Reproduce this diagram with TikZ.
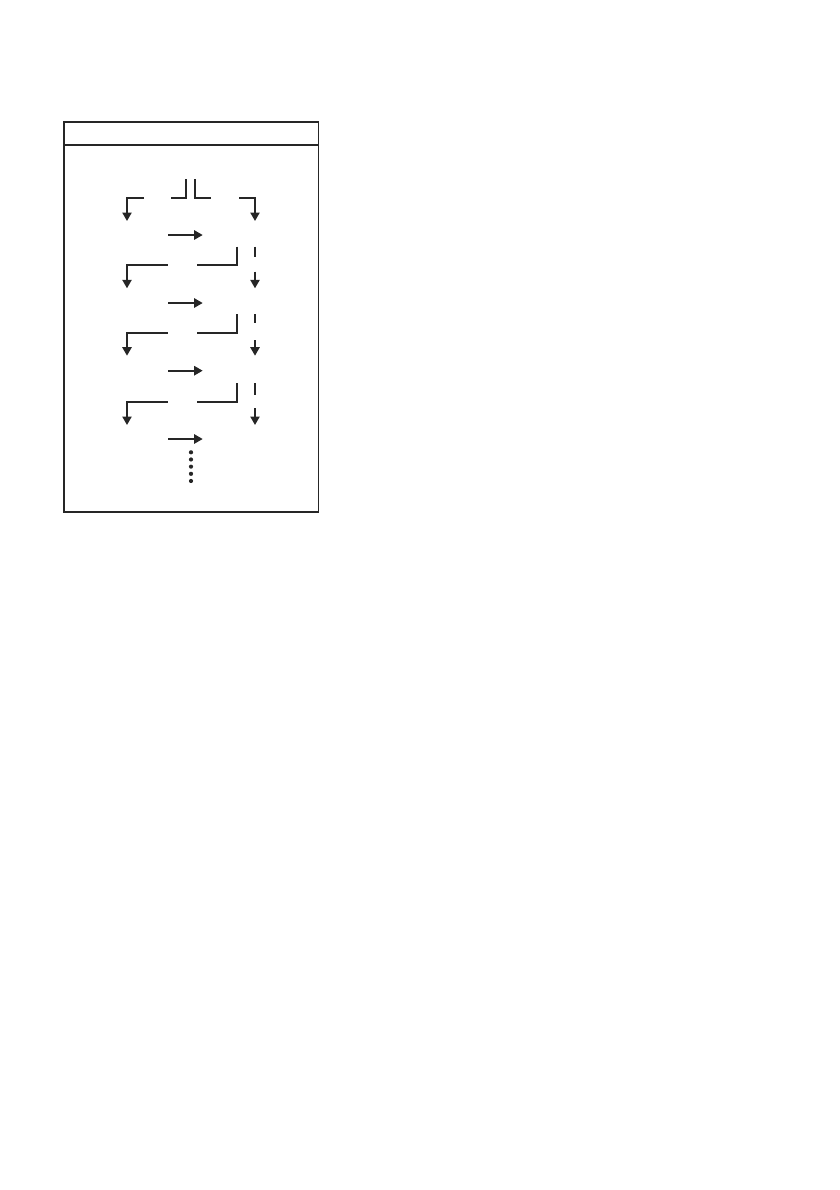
\documentclass[tikz,border=0pt]{standalone}
\usetikzlibrary{arrows.meta}
\begin{document}
\begin{tikzpicture}[x=0.7086pt,y=-0.7086pt,
  conn/.style={line width=1.3pt,line join=miter,color=black!85},
  arr/.style={conn,-{Triangle[length=6pt,width=6.5pt]}},
  frame/.style={line width=0.8pt,draw=black!85}]
\useasboundingbox (0,0) rectangle (840,1190);
% outer frame and header
\draw[frame] (64,122) rectangle (318.5,512);
\draw[frame] (64,145) -- (318.5,145);
% top junction
\coordinate (t1a) at (186,179); \coordinate (t1b) at (171,197.7);
\coordinate (t2a) at (195.3,179); \coordinate (t2b) at (210.7,197.7);
\draw[conn] (t1a) |- (t1b);
\draw[conn] (t2a) |- (t2b);
\coordinate (l0) at (144,197.7); \coordinate (l0e) at (127,221);
\draw[arr] (l0) -| (l0e);
\coordinate (r0) at (239,197.7); \coordinate (r0e) at (255,221);
\draw[arr] (r0) -| (r0e);
% right arrows
\foreach \y [count=\i] in {235,303,370.7,439}{
  \coordinate (h\i a) at (168,\y); \coordinate (h\i b) at (202.7,\y);
  \draw[arr] (h\i a) -- (h\i b);
}
% repeating blocks
\foreach \t/\b/\d/\s/\e [count=\i] in {246.7/265/256.7/271.7/288.3, 314.3/332.7/323.3/340.3/355.7, 383.3/401.7/395/408.3/425}{
  \coordinate (v\i a) at (237,\t); \coordinate (v\i b) at (197,\b);
  \draw[conn] (v\i a) |- (v\i b);
  \coordinate (w\i a) at (167.7,\b); \coordinate (w\i b) at (127,\e);
  \draw[arr] (w\i a) -| (w\i b);
  \coordinate (d\i a) at (255,\t); \coordinate (d\i b) at (255,\d);
  \draw[conn] (d\i a) -- (d\i b);
  \coordinate (e\i a) at (255,\s); \coordinate (e\i b) at (255,\e);
  \draw[arr] (e\i a) -- (e\i b);
}
% dots
\foreach \k in {0,...,4}{
  \fill[black!85] (191,452.3+7.17*\k) circle (2.1);
}
\end{tikzpicture}
\end{document}
